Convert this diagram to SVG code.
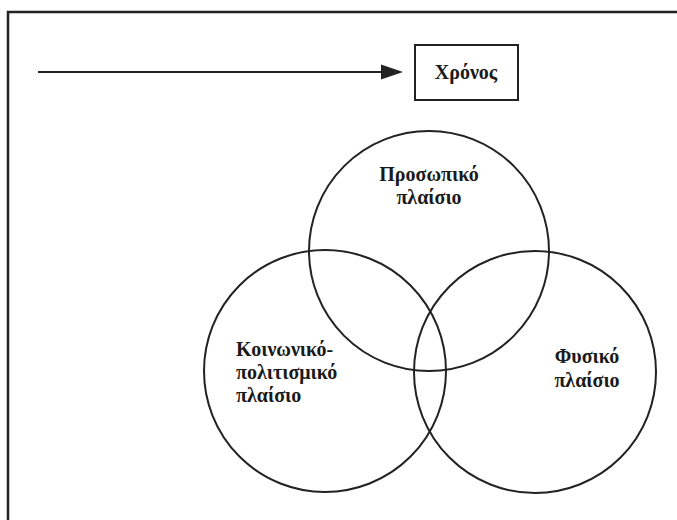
<svg xmlns="http://www.w3.org/2000/svg" width="677" height="520" viewBox="0 0 677 520">
<defs>
<style>
.frame{fill:none;stroke:#222;stroke-width:2.5}
.ln{fill:none;stroke:#222;stroke-width:2}
.c{fill:none;stroke:#222;stroke-width:2}
.t{font-family:"Liberation Serif","Times New Roman",serif;font-weight:bold;font-size:20px;fill:#1a1a1a}
</style>
</defs>
<rect width="677" height="520" fill="#fff"/>
<path class="frame" d="M8,520 L8,12 L677,12"/>
<g id="connectors">
<line class="ln" x1="38" y1="72" x2="382" y2="72"/>
<path d="M381,64.5 L403,72 L381,79.5 Z" fill="#222"/>
</g>
<g id="time">
<rect class="ln" x="415" y="45" width="103" height="55" fill="#fff"/>
<text class="t" x="466" y="79" text-anchor="middle">Χρόνος</text>
</g>
<g id="personal">
<circle class="c" cx="429" cy="251" r="120"/>
<text class="t" x="429" y="181" text-anchor="middle">Προσωπικό</text>
<text class="t" x="429" y="204" text-anchor="middle">πλαίσιο</text>
</g>
<g id="sociocultural">
<circle class="c" cx="325" cy="371" r="121"/>
<text class="t" x="236" y="356">Κοινωνικό-</text>
<text class="t" x="236" y="379">πολιτισμικό</text>
<text class="t" x="236" y="402">πλαίσιο</text>
</g>
<g id="physical">
<circle class="c" cx="535" cy="372" r="121"/>
<text class="t" x="587" y="363" text-anchor="middle">Φυσικό</text>
<text class="t" x="587" y="387" text-anchor="middle">πλαίσιο</text>
</g>
</svg>
